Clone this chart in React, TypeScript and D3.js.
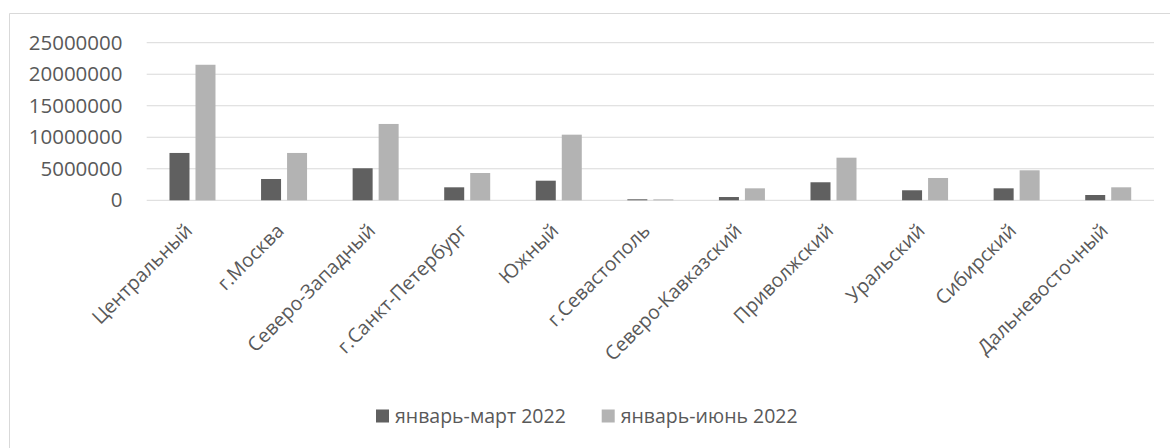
import React from "react";
import * as d3 from "d3";

const categories = [
  "Центральный",
  "г.Москва",
  "Северо-Западный",
  "г.Санкт-Петербург",
  "Южный",
  "г.Севастополь",
  "Северо-Кавказский",
  "Приволжский",
  "Уральский",
  "Сибирский",
  "Дальневосточный",
];
const seriesNames = ["январь-март 2022", "январь-июнь 2022"];
const janMar = [7510000, 3380000, 5080000, 2060000, 3110000, 160000, 520000, 2860000, 1590000, 1900000, 840000];
const janJun = [21500000, 7510000, 12110000, 4330000, 10410000, 150000, 1900000, 6760000, 3540000, 4760000, 2060000];
const yTicks = [0, 5000000, 10000000, 15000000, 20000000, 25000000];
const colors = ["#606060", "#b3b3b3"];

const W = 1170;
const H = 448;
const FONT = "'Open Sans', sans-serif";
const TEXT = "#595959";

export default function App() {
  const y = d3.scaleLinear().domain([0, 25000000]).range([200.3, 42.7]);
  const x0 = d3.scaleBand<string>().domain(categories).range([146.7, 1154]).padding(0);
  const groupW = 46;
  const x1 = d3.scaleBand<string>().domain(seriesNames).range([0, groupW]).paddingInner(0.2308).paddingOuter(0);
  const series = [janMar, janJun];

  return (
    <svg width={W} height={H} style={{ position: "absolute", left: 0, top: 0, background: "#fff" }} fontFamily={FONT}>
      <rect x={0} y={0} width={W} height={H} fill="#fff" />
      {/* chart border */}
      <line x1={9.5} y1={13.5} x2={W} y2={13.5} stroke="#d9d9d9" strokeWidth={1} />
      <line x1={9.5} y1={13.5} x2={9.5} y2={H} stroke="#d9d9d9" strokeWidth={1} />
      {/* grid */}
      {yTicks.map((t) => (
        <line key={t} x1={146.7} x2={1154} y1={y(t)} y2={y(t)} stroke="#d9d9d9" strokeWidth={1} />
      ))}
      {yTicks.map((t) => (
        <text key={"l" + t} x={122.5} y={y(t)} dy="0.35em" textAnchor="end" fontSize={20.5} fill={TEXT}>
          {t}
        </text>
      ))}
      {/* bars */}
      {categories.map((c, i) => {
        const gx = (x0(c) as number) + x0.bandwidth() / 2 - groupW / 2;
        return series.map((s, k) => (
          <rect
            key={c + k}
            x={gx + (x1(seriesNames[k]) as number)}
            y={y(s[i])}
            width={x1.bandwidth()}
            height={y(0) - y(s[i])}
            fill={colors[k]}
          />
        ));
      })}
      {/* category labels */}
      {categories.map((c) => {
        const cx = (x0(c) as number) + x0.bandwidth() / 2 + 1;
        const cy = 232;
        return (
          <text
            key={"c" + c}
            transform={`translate(${cx},${cy}) rotate(-45)`}
            textAnchor="end"
            fontSize={19.5}
            fill={TEXT}
          >
            {c}
          </text>
        );
      })}
      {/* legend */}
      {seriesNames.map((n, k) => {
        const lx = [376, 601.7][k];
        return (
          <g key={n}>
            <rect x={lx} y={409.5} width={13} height={13} fill={colors[k]} />
            <text x={lx + 19} y={416.5} dy="0.35em" fontSize={19.5} fill={TEXT}>
              {n}
            </text>
          </g>
        );
      })}
    </svg>
  );
}
